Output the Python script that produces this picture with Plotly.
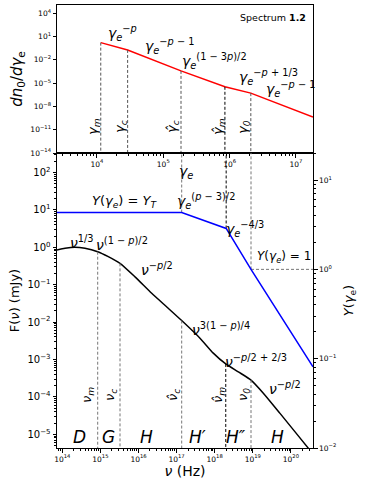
import numpy as np
import plotly.graph_objects as go

# ---------------- data ----------------
# top panel: electron distribution breaks (gamma_m, gamma_c, hat gamma_c, hat gamma_m, gamma_0, end)
gamma_pts = [1.14e4, 2.9e4, 1.85e5, 8.5e5, 2.09e6, 1.81e7]
dn_pts = [1.66, 0.19, 3.8e-4, 3.4e-6, 5.2e-7, 4.3e-10]
gamma_labels = ["γ<sub>m</sub>", "γ<sub>c</sub>", "γ̂<sub>c</sub>", "γ̂<sub>m</sub>", "γ<sub>0</sub>"]

# bottom panel: spectrum F(nu)
nu_curve = [7.26e13, 1.18e14, 2.15e14, 3.94e14, 8.49e14, 1.61e15, 3.27e15, 8.09e15,
            2.22e16, 6.05e16, 1.36e17, 4.11e17, 9.18e17, 1.95e18, 4.16e18, 8.97e18,
            1.89e19, 5.18e19, 2.86e20, 3.80e20]
F_curve = [0.847, 0.94, 1.0, 0.94, 0.762, 0.562, 0.372, 0.162, 0.0589, 0.0234,
           0.011, 0.00372, 0.00148, 7.6e-4, 4.68e-4, 2.82e-4, 1.26e-4, 3.63e-5,
           4.27e-6, 3.0e-6]
# break frequencies: nu_m, nu_c, hat nu_c, hat nu_m, nu_0
nu_breaks = [8.49e14, 3.27e15, 1.36e17, 1.95e18, 8.97e18]
F_breaks = [0.762, 0.372, 0.011, 7.6e-4, 2.82e-4]
nu_labels = ["ν<sub>m</sub>", "ν<sub>c</sub>", "ν̂<sub>c</sub>", "ν̂<sub>m</sub>", "ν<sub>0</sub>"]

# Compton Y parameter
nu_Y = [7.26e13, 1.36e17, 2.0e18, 8.97e18, 3.8e20]
Y_vals = [4.33, 4.33, 2.87, 1.0, 0.081]

regions = ["D", "G", "H", "H′", "H″", "H"]

# tick labels
top_x_ticks = [1e4, 1e5, 1e6, 1e7]
top_y_ticks = [1e4, 1e1, 1e-2, 1e-5, 1e-8, 1e-11, 1e-14]
bot_x_ticks = [1e14, 1e15, 1e16, 1e17, 1e18, 1e19, 1e20]
bot_y_ticks = [1e2, 1e1, 1e0, 1e-1, 1e-2, 1e-3, 1e-4, 1e-5]
Y_ticks = [1e1, 1e0, 1e-1, 1e-2]

# ---------------- layout helpers ----------------
W, H = 365, 489
L, R, T, B = 57, 313, 5, 448
split = (B - 153) / (B - T)
FONT = "DejaVu Sans"


def P(x, y):
    return (x - L) / (R - L), (B - y) / (B - T)


def pw(v):
    e = int(round(np.log10(v)))
    s = str(e).replace("-", "−")
    return "10<sup>%s</sup>" % s


def minors(lo, hi):
    out = []
    for d in range(lo, hi + 1):
        for m in range(2, 10):
            out.append(m * 10.0 ** d)
    return out


fig = go.Figure()

# ---- top panel ----
fig.add_trace(go.Scatter(x=gamma_pts, y=dn_pts, mode="lines",
                         line=dict(color="red", width=1.5), xaxis="x", yaxis="y"))
top_bottom = 1e-14
for i in range(5):
    col = "black" if i == 3 else "#555555"
    fig.add_trace(go.Scatter(x=[gamma_pts[i], gamma_pts[i]], y=[dn_pts[i], top_bottom],
                             mode="lines", line=dict(color=col, width=1, dash="3px,2px"),
                             xaxis="x", yaxis="y"))

# ---- bottom panel ----
fig.add_trace(go.Scatter(x=nu_curve, y=F_curve, mode="lines",
                         line=dict(color="black", width=1.5, shape="spline", smoothing=0.6),
                         xaxis="x2", yaxis="y2"))
F_bottom = 10 ** -5.37
for i in range(5):
    col = "black" if i == 3 else "#777777"
    fig.add_trace(go.Scatter(x=[nu_breaks[i], nu_breaks[i]], y=[F_breaks[i], F_bottom],
                             mode="lines", line=dict(color=col, width=1, dash="3px,2px"),
                             xaxis="x2", yaxis="y2"))

Y_top = 10 ** 1.303
for i in [1, 2, 3]:
    col = "black" if i == 2 else "#777777"
    fig.add_trace(go.Scatter(x=[nu_Y[i], nu_Y[i]], y=[Y_vals[i], Y_top],
                             mode="lines", line=dict(color=col, width=1, dash="3px,2px"),
                             xaxis="x2", yaxis="y3"))
fig.add_trace(go.Scatter(x=[nu_Y[3], nu_Y[4]], y=[1.0, 1.0], mode="lines",
                         line=dict(color="#777777", width=1, dash="3px,2px"),
                         xaxis="x2", yaxis="y3"))
fig.add_trace(go.Scatter(x=nu_Y, y=Y_vals, mode="lines",
                         line=dict(color="blue", width=1.5), xaxis="x2", yaxis="y3"))

axcommon = dict(type="log", showline=True, linecolor="black", linewidth=1,
                ticks="outside", ticklen=3.5, tickwidth=0.8, tickcolor="black",
                showgrid=False, zeroline=False, tickmode="array")

fig.update_layout(
    width=W, height=H,
    margin=dict(l=L, r=W - R, t=T, b=H - B),
    paper_bgcolor="white", plot_bgcolor="white",
    showlegend=False,
    font=dict(family=FONT, color="black"),
    xaxis=dict(axcommon, domain=[0, 1], anchor="y", range=[3.397, 7.258],
               mirror=True, tickvals=top_x_ticks, ticktext=[pw(v) for v in top_x_ticks],
               tickfont=dict(size=7.5),
               minor=dict(tickvals=minors(3, 7), ticklen=2, ticks="outside", tickcolor="black")),
    yaxis=dict(axcommon, domain=[split, 1], anchor="x", range=[-14, 5.07],
               mirror=True, tickvals=top_y_ticks, ticktext=[pw(v) for v in top_y_ticks],
               tickfont=dict(size=7.5),
               title=dict(text="<i>dn</i><sub>0</sub>/<i>dγ</i><sub>e</sub>",
                          font=dict(size=15), standoff=4)),
    xaxis2=dict(axcommon, domain=[0, 1], anchor="y2", range=[13.861, 20.58],
                mirror=True, tickvals=bot_x_ticks, ticktext=[pw(v) for v in bot_x_ticks],
                tickfont=dict(size=7.5),
                minor=dict(tickvals=minors(13, 20), ticklen=2, ticks="outside", tickcolor="black"),
                title=dict(text="<i>ν</i> (Hz)", font=dict(size=14), standoff=2)),
    yaxis2=dict(axcommon, domain=[0, split], anchor="x2", range=[-5.366, 2.521],
                tickvals=bot_y_ticks, ticktext=[pw(v) for v in bot_y_ticks],
                tickfont=dict(size=10),
                minor=dict(tickvals=minors(-6, 2), ticklen=2, ticks="outside", tickcolor="black"),
                title=dict(text="F(<i>ν</i>) (mJy)", font=dict(size=13), standoff=4)),
    yaxis3=dict(axcommon, overlaying="y2", side="right", anchor="x2", range=[-2, 1.303],
                tickvals=Y_ticks, ticktext=[pw(v) for v in Y_ticks],
                tickfont=dict(size=7.5),
                minor=dict(tickvals=minors(-2, 1), ticklen=2, ticks="outside", tickcolor="black"),
                title=dict(text="<i>Y</i>(<i>γ</i><sub>e</sub>)", font=dict(size=13), standoff=8)),
)

ann = []


def add(text, x, y, size=13, angle=0, xanchor="center"):
    px, py = P(x, y)
    ann.append(dict(text=text, x=px, y=py, xref="paper", yref="paper", showarrow=False,
                    xanchor=xanchor, yanchor="middle", textangle=angle,
                    font=dict(size=size, family=FONT, color="black")))


ge = "<i>γ</i><sub><i>e</i></sub>"
nu = "<i>ν</i>"
add("Spectrum <b>1.2</b>", 308, 17, size=9.5, xanchor="right")
add(ge + "<sup>−<i>p</i></sup>", 122, 33, size=14)
add(ge + "<sup>−<i>p</i> − 1</sup>", 169, 46, size=14)
add(ge + "<sup>(1 − 3<i>p</i>)/2</sup>", 214, 61, size=14)
add(ge + "<sup>−<i>p</i> + 1/3</sup>", 268, 77, size=14)
add(ge + "<sup>−<i>p</i> − 1</sup>", 290, 89, size=14)
for lab, xx in zip(gamma_labels, [93, 120, 172, 218, 243]):
    add("<i>" + lab + "</i>", xx, 127, size=13, angle=-90)

add(ge, 186, 172, size=14)
add("<i>Y</i>(" + ge + ") = <i>Y<sub>T</sub></i>", 125, 201, size=13)
add(ge + "<sup>(<i>p</i> − 3)/2</sup>", 206, 201, size=14)
add(ge + "<sup>−4/3</sup>", 245, 229, size=14)
add("<i>Y</i>(" + ge + ") = 1", 284, 257, size=12)
add(nu + "<sup>1/3</sup>", 82, 242, size=14)
add(nu + "<sup>(1 − <i>p</i>)/2</sup>", 122, 244, size=14)
add(nu + "<sup>−<i>p</i>/2</sup>", 157, 269, size=14)
add(nu + "<sup>3(1 − <i>p</i>)/4</sup>", 221, 329, size=14)
add(nu + "<sup>−<i>p</i>/2 + 2/3</sup>", 256, 361, size=14)
add(nu + "<sup>−<i>p</i>/2</sup>", 285, 388, size=14)
for lab, xx in zip(nu_labels, [87, 110, 173, 218, 243]):
    add("<i>" + lab + "</i>", xx, 395, size=13, angle=-90)
for lab, xx in zip(regions, [79, 108, 146, 197, 236, 277]):
    add("<i>" + lab + "</i>", xx, 437, size=17)

fig.update_layout(annotations=ann)
fig.write_html("out.html", config={"displayModeBar": False},
               post_script="document.body.style.margin='0px';document.body.style.overflow='hidden';")
